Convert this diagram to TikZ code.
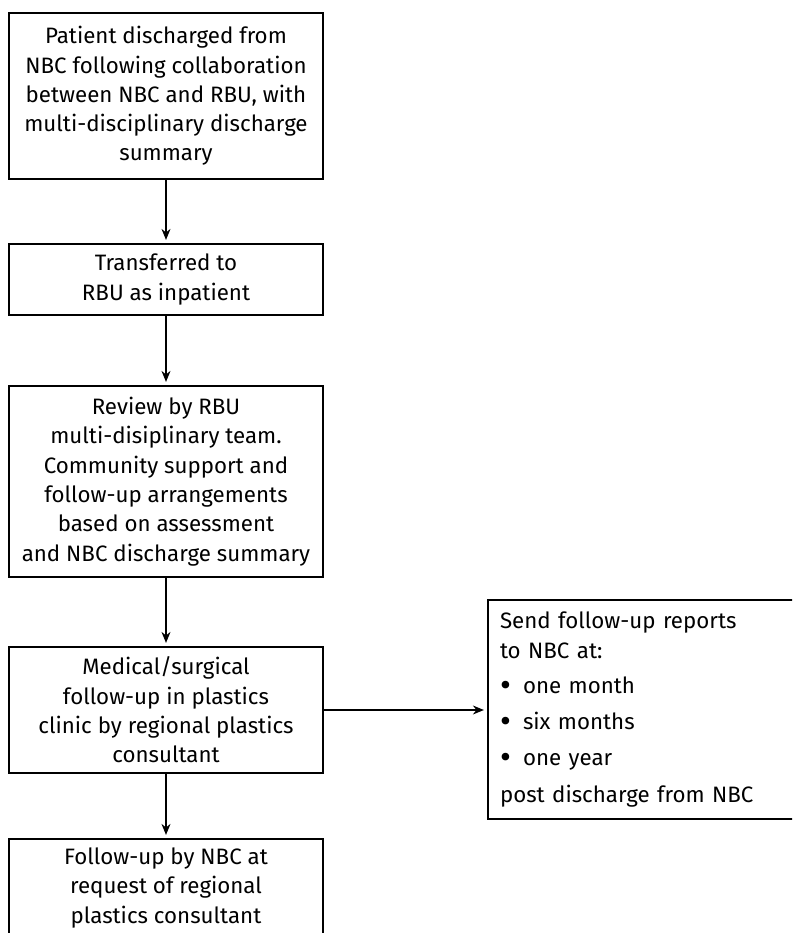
\documentclass[tikz,border=0pt]{standalone}
\usepackage{fontspec}
\setmainfont{Fira Sans}
\usetikzlibrary{arrows.meta}

\tikzset{
  flowbox/.style={draw, line width=1.2pt, rectangle, minimum width=314pt,
    align=center, inner sep=0pt,
    font=\fontsize{22.3}{29.3}\selectfont},
  notebox/.style={draw, line width=1.2pt, rectangle, minimum width=307pt,
    text width=283pt, align=left, inner xsep=12pt, inner ysep=0pt,
    font=\fontsize{22.3}{29.3}\selectfont},
  flowarrow/.style={line width=1.2pt,
    -{Stealth[length=11pt,width=9pt]}, shorten >=3.5pt}
}
% list entry with an enlarged round bullet
\newcommand{\listitem}[1]{\makebox[23pt][l]{\raisebox{-0.13em}{\scalebox{1.5}{•}}}#1}

\begin{document}
\begin{tikzpicture}[x=1pt,y=-1pt]
  \clip (0,0) rectangle (792,933);
  \fill[white] (0,0) rectangle (792,933);

  \node[flowbox, minimum height=166pt] (b1) at (166,96)
    {Patient discharged from\\NBC following collaboration\\between NBC and RBU, with\\multi-disciplinary discharge\\summary};
  \node[flowbox, minimum height=71pt] (b2) at (166,279.5)
    {Transferred to\\RBU as inpatient};
  \node[flowbox, minimum height=191pt] (b3) at (166,481.5)
    {Review by RBU\\multi-disiplinary team.\\Community support and\\follow-up arrangements\\based on assessment\\and NBC discharge summary};
  \node[flowbox, minimum height=126pt] (b4) at (166,710)
    {Medical/surgical\\follow-up in plastics\\clinic by regional plastics\\consultant};
  \node[flowbox, minimum height=98pt] (b5) at (166,888)
    {Follow-up by NBC at\\request of regional\\plastics consultant};

  \node[notebox, minimum height=219pt] (rb) at (641.5,709.5)
    {Send follow-up reports\\to NBC at:\\[6pt]
     \listitem{one month}\\[7pt]
     \listitem{six months}\\[7pt]
     \listitem{one year}\\[7pt]
     post discharge from NBC};

  \draw[flowarrow] (b1.south) -- (b2.north);
  \draw[flowarrow] (b2.south) -- (b3.north);
  \draw[flowarrow] (b3.south) -- (b4.north);
  \draw[flowarrow] (b4.south) -- (b5.north);
  \draw[flowarrow] (b4.east) -- (b4.east -| rb.west);
\end{tikzpicture}
\end{document}
